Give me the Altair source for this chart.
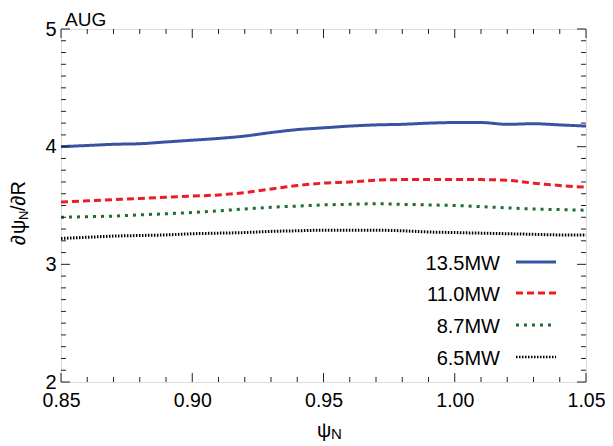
import altair as alt
import pandas as pd

FONT = "Liberation Sans"
W, H = 525, 353

psi = [0.85, 0.86, 0.87, 0.88, 0.89, 0.90, 0.91, 0.92, 0.93, 0.94, 0.95,
       0.96, 0.97, 0.98, 0.99, 1.00, 1.01, 1.02, 1.03, 1.04, 1.05]
p135 = [4.00, 4.01, 4.02, 4.025, 4.04, 4.055, 4.07, 4.09, 4.12, 4.145, 4.16,
        4.175, 4.185, 4.19, 4.20, 4.205, 4.205, 4.19, 4.195, 4.185, 4.175]
p110 = [3.53, 3.54, 3.55, 3.56, 3.57, 3.58, 3.59, 3.61, 3.64, 3.67, 3.69,
        3.70, 3.715, 3.72, 3.72, 3.72, 3.72, 3.715, 3.69, 3.67, 3.655]
p87 = [3.40, 3.405, 3.41, 3.42, 3.43, 3.44, 3.455, 3.47, 3.485, 3.495, 3.505,
       3.51, 3.515, 3.51, 3.505, 3.50, 3.49, 3.48, 3.47, 3.465, 3.46]
p65 = [3.22, 3.23, 3.24, 3.245, 3.25, 3.26, 3.265, 3.27, 3.28, 3.285, 3.29,
       3.29, 3.29, 3.285, 3.275, 3.27, 3.265, 3.26, 3.255, 3.25, 3.25]

series = ["13.5MW", "11.0MW", "8.7MW", "6.5MW"]
colors = ["#3953a4", "#ed1c24", "#1a6e32", "#000000"]
dashes = [[1, 0], [7, 4], [3, 5], [1.5, 1.5]]
widths = [3, 3, 3, 2.5]

x_major = [0.85, 0.90, 0.95, 1.00, 1.05]
x_minor = [0.86, 0.87, 0.88, 0.89, 0.91, 0.92, 0.93, 0.94, 0.96, 0.97, 0.98,
           0.99, 1.01, 1.02, 1.03, 1.04]
y_major = [2, 3, 4, 5]
y_minor = [2.1, 2.2, 2.3, 2.4, 2.5, 2.6, 2.7, 2.8, 2.9, 3.1, 3.2, 3.3, 3.4,
           3.5, 3.6, 3.7, 3.8, 3.9, 4.1, 4.2, 4.3, 4.4, 4.5, 4.6, 4.7, 4.8, 4.9]

rows = []
for name, vals in zip(series, [p135, p110, p87, p65]):
    for xv, yv in zip(psi, vals):
        rows.append({"psi": xv, "val": yv, "series": name})
df = pd.DataFrame(rows)

xs = alt.Scale(domain=[0.85, 1.05], nice=False, zero=False)
ys = alt.Scale(domain=[2, 5], nice=False, zero=False)

xaxis = alt.Axis(values=x_major, format=".2f", ticks=False, domain=False, grid=False,
                 labelFontSize=19.5, labelFont=FONT, labelColor="black", labelPadding=9,
                 labelFlush=False, title=None)
yaxis = alt.Axis(values=y_major, format="d", ticks=False, domain=False, grid=False,
                 labelFontSize=20, labelFont=FONT, labelColor="black", labelPadding=5,
                 labelFlush=False, title=None)

lines = alt.Chart(df).mark_line(interpolate="monotone").encode(
    x=alt.X("psi:Q", scale=xs, axis=xaxis),
    y=alt.Y("val:Q", scale=ys, axis=yaxis),
    color=alt.Color("series:N", scale=alt.Scale(domain=series, range=colors), legend=None),
    strokeDash=alt.StrokeDash("series:N", scale=alt.Scale(domain=series, range=dashes), legend=None),
    strokeWidth=alt.StrokeWidth("series:N", scale=alt.Scale(domain=series, range=widths), legend=None),
    detail="series:N",
)

layers = [lines]

tick_color = "#222222"
xmaj = pd.DataFrame({"t": x_major})
xmin = pd.DataFrame({"t": x_minor})
ymaj = pd.DataFrame({"t": y_major})
ymin = pd.DataFrame({"t": y_minor})

for d, L in [(xmaj, 9), (xmin, 5)]:
    layers.append(alt.Chart(d).mark_rule(color=tick_color, strokeWidth=1).encode(
        x=alt.X("t:Q", scale=xs), y=alt.value(H), y2=alt.value(H - L)))
    layers.append(alt.Chart(d).mark_rule(color=tick_color, strokeWidth=1).encode(
        x=alt.X("t:Q", scale=xs), y=alt.value(0), y2=alt.value(L)))
for d, L in [(ymaj, 9), (ymin, 5)]:
    layers.append(alt.Chart(d).mark_rule(color=tick_color, strokeWidth=1).encode(
        y=alt.Y("t:Q", scale=ys), x=alt.value(0), x2=alt.value(L)))
    layers.append(alt.Chart(d).mark_rule(color=tick_color, strokeWidth=1).encode(
        y=alt.Y("t:Q", scale=ys), x=alt.value(W), x2=alt.value(W - L)))

# legend (manual, labels left of samples)
leg_y = [233, 264, 296, 328]
for name, c, dsh, sw, ly in zip(series, colors, dashes, widths, leg_y):
    one = pd.DataFrame({"label": [name]})
    layers.append(alt.Chart(one).mark_text(align="right", baseline="middle", font=FONT,
                                           fontSize=20, color="black").encode(
        text="label:N", x=alt.value(439), y=alt.value(ly + 2)))
    layers.append(alt.Chart(one).mark_rule(color=c, strokeDash=dsh, strokeWidth=sw).encode(
        x=alt.value(455), x2=alt.value(495), y=alt.value(ly)))

def txt(s, x, y, size, angle=0, align="left"):
    kw = dict(align=align, baseline="alphabetic", font=FONT, fontSize=size, color="black")
    if angle:
        kw["angle"] = angle
    return alt.Chart(pd.DataFrame({"s": [s]})).mark_text(**kw).encode(
        text="s:N", x=alt.value(x), y=alt.value(y))

# panel label
layers.append(txt("AUG", 4, -3, 19))
# x title psi_N
layers.append(txt("ψ", 256, 408, 20))
layers.append(txt("N", 270, 410, 15))
# y title d psi_N / dR (rotated)
layers.append(txt("∂", -36, 216, 20, angle=270))
layers.append(txt("ψ", -36, 205, 20, angle=270))
layers.append(txt("N", -33, 191, 13, angle=270))
layers.append(txt("/∂R", -36, 182, 20, angle=270))

chart = alt.layer(*layers).properties(
    width=W, height=H,
    autosize=alt.AutoSizeParams(type="none"),
    padding={"left": 53, "top": 21, "right": 19, "bottom": 64},
).configure_view(stroke="#222222", strokeWidth=1.3).configure(background="white")

chart.save("out.html", embed_options={"renderer": "svg", "actions": False})
